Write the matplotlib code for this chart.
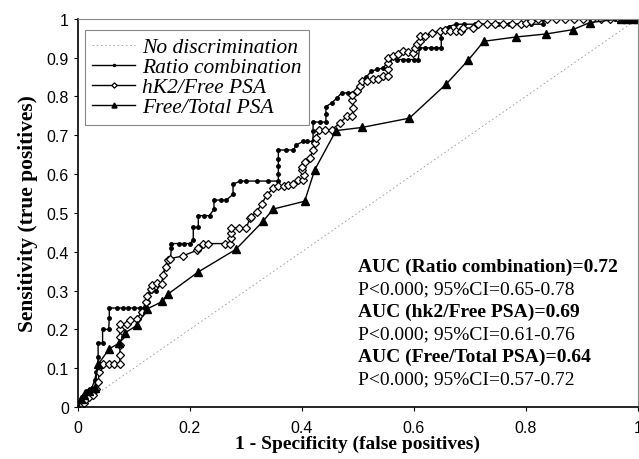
import numpy as np
import matplotlib
matplotlib.use("Agg")
import matplotlib.pyplot as plt

# ROC curves
ratio_x = [0, 0.003, 0.006, 0.01, 0.015, 0.02, 0.025, 0.03, 0.033, 0.035, 0.036, 0.036, 0.044, 0.044,
           0.055, 0.056, 0.056, 0.07, 0.08, 0.09, 0.1, 0.11, 0.12, 0.125, 0.13, 0.14, 0.15, 0.155, 0.165,
           0.167, 0.167, 0.18, 0.19, 0.2, 0.206, 0.206, 0.215, 0.215, 0.225, 0.235, 0.243, 0.243, 0.255,
           0.265, 0.277, 0.277, 0.29, 0.3, 0.32, 0.34, 0.358, 0.358, 0.358, 0.358, 0.358, 0.372, 0.385,
           0.39, 0.402, 0.41, 0.42, 0.42, 0.42, 0.432, 0.443, 0.443, 0.443, 0.453, 0.462, 0.471, 0.482,
           0.492, 0.5, 0.505, 0.515, 0.524, 0.535, 0.545, 0.554, 0.556, 0.57, 0.58, 0.59, 0.6, 0.608,
           0.61, 0.62, 0.63, 0.64, 0.649, 0.649, 0.649, 0.662, 0.676, 0.69, 0.71, 0.73, 0.75, 0.77, 0.79,
           0.81, 0.831, 0.831, 0.96, 0.97, 0.98, 0.99, 1.0]
ratio_y = [0, 0.01, 0.02, 0.03, 0.04, 0.045, 0.05, 0.07, 0.09, 0.1, 0.13, 0.165, 0.165, 0.2,
           0.2, 0.23, 0.255, 0.255, 0.255, 0.255, 0.255, 0.255, 0.255, 0.27, 0.3, 0.3, 0.32, 0.36, 0.38,
           0.41, 0.421, 0.421, 0.421, 0.421, 0.43, 0.463, 0.463, 0.493, 0.493, 0.493, 0.51, 0.533, 0.533,
           0.533, 0.548, 0.574, 0.582, 0.582, 0.582, 0.582, 0.582, 0.6, 0.62, 0.64, 0.662, 0.662, 0.662,
           0.675, 0.684, 0.684, 0.684, 0.71, 0.734, 0.734, 0.734, 0.755, 0.774, 0.783, 0.795, 0.809, 0.809,
           0.809, 0.822, 0.835, 0.85, 0.865, 0.87, 0.873, 0.89, 0.895, 0.895, 0.895, 0.895, 0.895, 0.895,
           0.925, 0.925, 0.925, 0.925, 0.925, 0.95, 0.972, 0.98, 0.986, 0.986, 0.986, 0.986, 0.986, 0.986, 0.986,
           0.986, 0.986, 1.0, 1.0, 1.0, 1.0, 1.0, 1.0]

hk2_x = [0, 0.005, 0.01, 0.015, 0.02, 0.027, 0.033, 0.036, 0.038, 0.04, 0.045, 0.055, 0.065, 0.075,
         0.075, 0.075, 0.075, 0.075, 0.075, 0.087, 0.093, 0.105, 0.114, 0.121, 0.123, 0.13, 0.133, 0.142,
         0.15, 0.152, 0.157, 0.16, 0.164, 0.187, 0.213, 0.215, 0.224, 0.233, 0.262, 0.271, 0.273, 0.273,
         0.273, 0.287, 0.301, 0.307, 0.309, 0.319, 0.328, 0.337, 0.349, 0.358, 0.368, 0.376, 0.385, 0.393,
         0.402, 0.404, 0.401, 0.401, 0.405, 0.414, 0.42, 0.423, 0.426, 0.431, 0.442, 0.453, 0.468, 0.48,
         0.49, 0.492, 0.49, 0.49, 0.498, 0.504, 0.507, 0.516, 0.527, 0.536, 0.545, 0.554, 0.554, 0.554,
         0.554, 0.563, 0.572, 0.581, 0.59, 0.599, 0.602, 0.605, 0.611, 0.611, 0.62, 0.632, 0.646, 0.655,
         0.665, 0.675, 0.685, 0.688, 0.706, 0.715, 0.73, 0.745, 0.76, 0.775, 0.792, 0.8, 0.81, 0.822,
         0.838, 0.854, 0.87, 0.886, 0.902, 0.918, 0.934, 0.95, 0.966, 0.98, 1.0]
hk2_y = [0, 0.005, 0.01, 0.02, 0.025, 0.03, 0.047, 0.064, 0.09, 0.106, 0.111, 0.111, 0.111, 0.111,
         0.135, 0.16, 0.18, 0.2, 0.214, 0.214, 0.223, 0.227, 0.245, 0.27, 0.285, 0.305, 0.315, 0.32,
         0.318, 0.339, 0.361, 0.378, 0.382, 0.389, 0.404, 0.41, 0.421, 0.421, 0.421, 0.421, 0.435, 0.448,
         0.46, 0.462, 0.462, 0.486, 0.49, 0.503, 0.522, 0.546, 0.563, 0.568, 0.57, 0.572, 0.574, 0.585,
         0.585, 0.598, 0.61, 0.619, 0.632, 0.641, 0.662, 0.68, 0.693, 0.714, 0.714, 0.714, 0.731, 0.749,
         0.749, 0.77, 0.79, 0.804, 0.813, 0.826, 0.839, 0.839, 0.844, 0.844, 0.852, 0.852, 0.87, 0.885,
         0.899, 0.903, 0.91, 0.916, 0.914, 0.912, 0.925, 0.934, 0.942, 0.955, 0.955, 0.964, 0.968, 0.97,
         0.968, 0.968, 0.968, 0.975, 0.977, 0.986, 0.986, 0.986, 0.986, 0.986, 0.987, 0.99, 0.995, 1.0,
         1.0, 1.0, 1.0, 1.0, 1.0, 1.0, 1.0, 1.0, 1.0, 1.0, 1.0]

ft_x = [0, 0.005, 0.01, 0.02, 0.03, 0.036, 0.056, 0.074, 0.084, 0.105, 0.124, 0.151, 0.16, 0.215,
        0.282, 0.331, 0.349, 0.405, 0.423, 0.461, 0.507, 0.592, 0.658, 0.697, 0.725, 0.782, 0.837,
        0.884, 0.914, 0.97, 0.98, 0.99, 1.0]
ft_y = [0, 0.02, 0.03, 0.04, 0.05, 0.11, 0.15, 0.165, 0.191, 0.21, 0.253, 0.272, 0.29, 0.348,
        0.406, 0.479, 0.51, 0.53, 0.611, 0.712, 0.72, 0.744, 0.832, 0.893, 0.942, 0.953, 0.961,
        0.972, 0.99, 1.0, 1.0, 1.0, 1.0]

auc_lines = ["AUC (Ratio combination)=0.72", "P<0.000; 95%CI=0.65-0.78",
             "AUC (hk2/Free PSA)=0.69", "P<0.000; 95%CI=0.61-0.76",
             "AUC (Free/Total PSA)=0.64", "P<0.000; 95%CI=0.57-0.72"]

serif = "Liberation Serif"
sans = "Liberation Sans"

fig = plt.figure(figsize=(6.39, 4.60), dpi=100)
ax = fig.add_axes([0.122, 0.113, 0.876, 0.844])

ax.plot([0, 1], [0, 1], color="#999999", lw=0.6, ls=(0, (2, 3)), label="No discrimination")
ax.plot(ratio_x, ratio_y, "k-", lw=1, marker="o", ms=2.5, label="Ratio combination")
ax.plot(hk2_x, hk2_y, "k-", lw=1, marker="D", ms=4.5, mfc="white", mew=0.9, label="hK2/Free PSA")
ax.plot(ft_x, ft_y, "k-", lw=1, marker="^", ms=6, label="Free/Total PSA")

ax.set_xlim(0, 1)
ax.set_ylim(0, 1)
ax.set_xticks([0, 0.2, 0.4, 0.6, 0.8, 1])
ax.set_xticklabels(["0", "0.2", "0.4", "0.6", "0.8", "1"])
ax.set_yticks(np.arange(0, 1.01, 0.1))
ax.set_yticklabels(["0", "0.1", "0.2", "0.3", "0.4", "0.5", "0.6", "0.7", "0.8", "0.9", "1"])
ax.tick_params(labelsize=11.5, length=3, width=0.8)
ax.tick_params(axis="x", pad=6)
for lbl in ax.get_xticklabels() + ax.get_yticklabels():
    lbl.set_family(sans)

for s in ["top", "right"]:
    ax.spines[s].set_color("#888888")
    ax.spines[s].set_linewidth(0.8)
for s in ["left", "bottom"]:
    ax.spines[s].set_linewidth(1.2)

ax.set_xlabel("1 - Specificity (false positives)", family=serif, fontweight="bold", fontsize=14, labelpad=0)
ax.set_ylabel("Sensitivity (true positives)", family=serif, fontweight="bold", fontsize=15.5, labelpad=6)

leg = ax.legend(loc="upper left", bbox_to_anchor=(0.012, 0.972), borderaxespad=0,
                prop={"family": serif, "style": "italic", "size": 15.5},
                handlelength=2.0, handletextpad=0.3, labelspacing=0.0, borderpad=0.35,
                fancybox=False, framealpha=1, edgecolor="#888888", markerscale=0.6)
leg.get_frame().set_linewidth(0.8)

for i, t in enumerate(auc_lines):
    ax.text(0.5, 0.363 - i * 0.058, t, family=serif, fontsize=14,
            fontweight="bold" if i % 2 == 0 else "normal", va="center", ha="left")

fig.savefig("out.png", dpi=100)
